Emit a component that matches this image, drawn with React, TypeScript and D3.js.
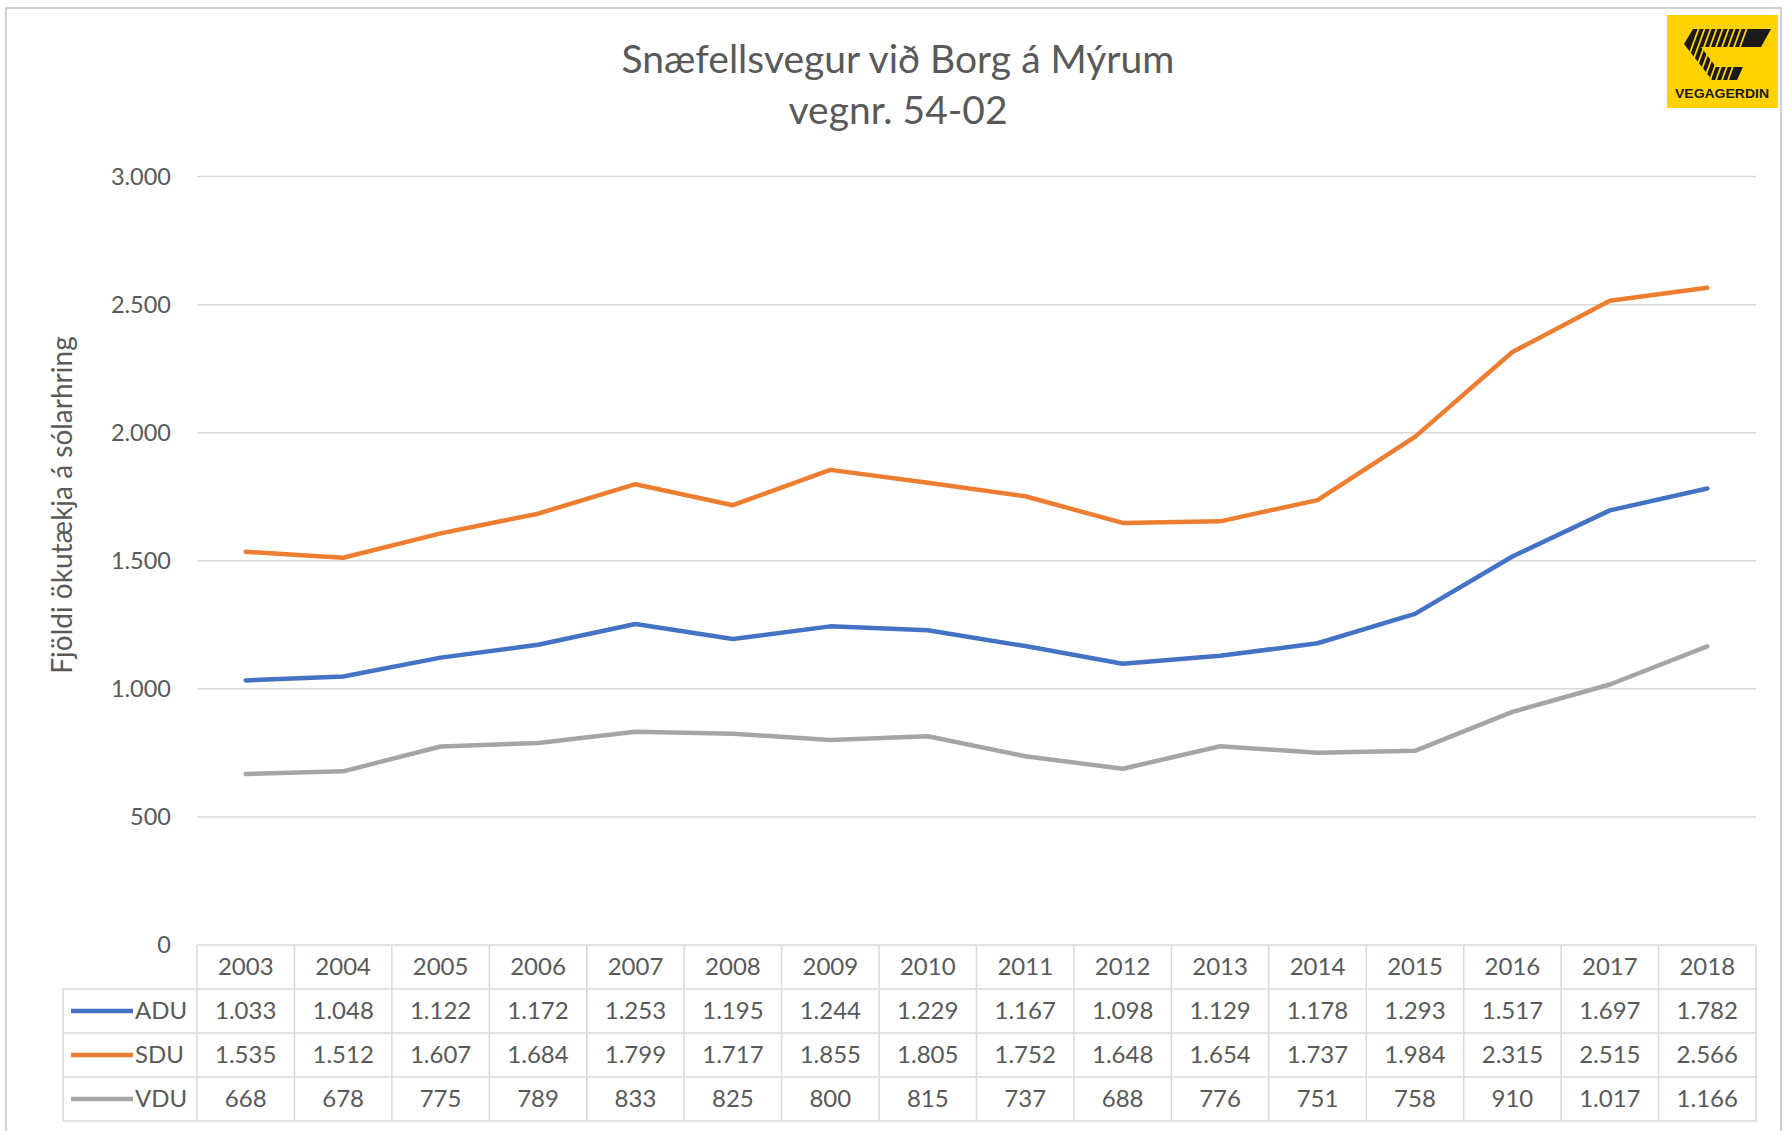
import React from "react";
import * as d3 from "d3";

const years = ["2003","2004","2005","2006","2007","2008","2009","2010","2011","2012","2013","2014","2015","2016","2017","2018"];
const adu = [1033,1048,1122,1172,1253,1195,1244,1229,1167,1098,1129,1178,1293,1517,1697,1782];
const sdu = [1535,1512,1607,1684,1799,1717,1855,1805,1752,1648,1654,1737,1984,2315,2515,2566];
const vdu = [668,678,775,789,833,825,800,815,737,688,776,751,758,910,1017,1166];
const yTicks = [0,500,1000,1500,2000,2500,3000];
const seriesNames = ["ADU","SDU","VDU"];
const seriesColors = ["#4472C4","#ED7D31","#A5A5A5"];
const title1 = "Snæfellsvegur við Borg á Mýrum";
const title2 = "vegnr. 54-02";
const yTitle = "Fjöldi ökutækja á sólarhring";

const W = 1787, H = 1131;
const left = 197, right = 1756, top = 176.6, bottom = 945;
const legendLeft = 63;
const rowH = 44;
const FONT = "Lato, 'Open Sans', sans-serif";
const TXT = "#595959";

export default function App() {
  const x = d3.scaleBand<string>().domain(years).range([left, right]);
  const y = d3.scaleLinear().domain([0, 3000]).range([bottom, top]);
  const data = [adu, sdu, vdu];
  const line = d3.line<number>().x((_, i) => (x(years[i]) as number) + x.bandwidth() / 2).y(d => y(d));
  const fmt = (v: number) => d3.format(",")(v).replace(/,/g, ".");
  const grid = "#D9D9D9";
  const hatch = d3.range(0, 9);

  return (
    <svg width={W} height={H} style={{ position: "absolute", left: 0, top: 0, background: "#fff" }} fontFamily={FONT}>
      <rect x={6} y={8} width={W - 12} height={H + 20} fill="#fff" stroke="#D0D0D0" strokeWidth={2} />
      <text x={898} y={73} textAnchor="middle" fontSize={39} fill={TXT}>{title1}</text>
      <text x={898} y={124} textAnchor="middle" fontSize={39} fill={TXT}>{title2}</text>

      {/* logo */}
      <g>
        <rect x={1667} y={15} width={111} height={93} fill="#FFD200" />
        <clipPath id="logoclip"><rect x={1667} y={15} width={111} height={93} /></clipPath>
        <g clipPath="url(#logoclip)">
          <polygon points="1693,29 1771,29 1761,47 1701,47 1716,67 1743,67 1737,80 1712,80 1684,44" fill="#1a1a1a" />
          {hatch.map(i => (
            <line key={"h" + i} x1={1680 + i * 6} y1={80} x2={1700 + i * 6} y2={25} stroke="#FFD200" strokeWidth={1.8} />
          ))}
        </g>
        <text x={1722} y={98} textAnchor="middle" fontSize={12} fontWeight="bold" fill="#1a1a1a" fontFamily="'Liberation Sans', Arial, sans-serif" textLength={94} lengthAdjust="spacingAndGlyphs">VEGAGERDIN</text>
      </g>

      {/* gridlines */}
      {yTicks.map(t => (
        <g key={t}>
          {t > 0 && <line x1={left} x2={right} y1={y(t)} y2={y(t)} stroke={grid} strokeWidth={1.5} />}
          <text x={171} y={y(t)} dy="0.35em" textAnchor="end" fontSize={23.5} fill={TXT}>{fmt(t)}</text>
        </g>
      ))}

      <text transform={`translate(62,${505}) rotate(-90)`} textAnchor="middle" dy="0.35em" fontSize={28} fill={TXT}>{yTitle}</text>

      {/* lines */}
      {data.map((d, i) => (
        <path key={i} d={line(d) as string} fill="none" stroke={seriesColors[i]} strokeWidth={4.5} strokeLinejoin="round" strokeLinecap="round" />
      ))}

      {/* table */}
      <g>
        <line x1={left} x2={right} y1={bottom} y2={bottom} stroke={grid} strokeWidth={1.5} />
        {[1, 2, 3, 4].map(r => (
          <line key={"h" + r} x1={legendLeft} x2={right} y1={bottom + r * rowH} y2={bottom + r * rowH} stroke={grid} strokeWidth={1.5} />
        ))}
        <line x1={legendLeft} x2={legendLeft} y1={bottom + rowH} y2={bottom + 4 * rowH} stroke={grid} strokeWidth={1.5} />
        {years.map(yr => (
          <line key={"v" + yr} x1={x(yr)} x2={x(yr)} y1={bottom} y2={bottom + 4 * rowH} stroke={grid} strokeWidth={1.5} />
        ))}
        <line x1={right} x2={right} y1={bottom} y2={bottom + 4 * rowH} stroke={grid} strokeWidth={1.5} />
        {years.map(yr => (
          <text key={"y" + yr} x={(x(yr) as number) + x.bandwidth() / 2} y={bottom + rowH / 2} dy="0.35em" textAnchor="middle" fontSize={24} fill={TXT}>{yr}</text>
        ))}
        {data.map((d, r) => (
          <g key={"r" + r}>
            <line x1={71} x2={133} y1={bottom + (r + 1.5) * rowH} y2={bottom + (r + 1.5) * rowH} stroke={seriesColors[r]} strokeWidth={4.5} />
            <text x={135} y={bottom + (r + 1.5) * rowH} dy="0.35em" fontSize={24} fill={TXT}>{seriesNames[r]}</text>
            {d.map((v, i) => (
              <text key={i} x={(x(years[i]) as number) + x.bandwidth() / 2} y={bottom + (r + 1.5) * rowH} dy="0.35em" textAnchor="middle" fontSize={24} fill={TXT}>{fmt(v)}</text>
            ))}
          </g>
        ))}
      </g>
    </svg>
  );
}
